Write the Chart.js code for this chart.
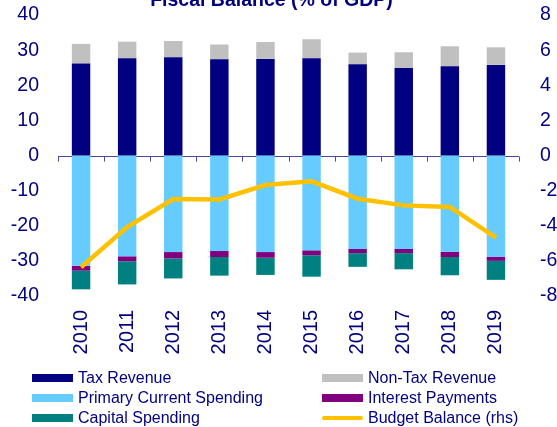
<!DOCTYPE html>
<html>
<head>
<meta charset="utf-8">
<script src="https://cdn.jsdelivr.net/npm/chart.js@4.4.0/dist/chart.umd.min.js"></script>
<style>
  html, body { margin: 0; padding: 0; background: #fff; }
  #wrap { position: relative; width: 557px; height: 427px; overflow: hidden; }
  canvas { position: absolute; left: 0; top: 0; }
  .leg { position: absolute; font-family: "Liberation Sans", Arial, sans-serif; font-size: 16px; color: #000080; line-height: 20px; white-space: nowrap; }
  .sw { position: absolute; width: 41px; height: 8px; }
</style>
</head>
<body>
<div id="wrap">
  <canvas id="c" width="557" height="427"></canvas>
</div>
<script>
const categories = ["2010","2011","2012","2013","2014","2015","2016","2017","2018","2019"];
const taxRevenue = [26.2, 27.7, 28.0, 27.4, 27.5, 27.7, 26.0, 24.9, 25.4, 25.8];
const nonTaxRevenue = [5.6, 4.7, 4.6, 4.2, 4.8, 5.4, 3.3, 4.5, 5.7, 5.0];
const primaryCurrentSpending = [-31.4, -28.7, -27.5, -27.2, -27.5, -27.0, -26.6, -26.6, -27.4, -28.8];
const interestPayments = [-1.4, -1.4, -1.8, -1.7, -1.6, -1.4, -1.2, -1.2, -1.5, -1.2];
const capitalSpending = [-5.3, -6.6, -5.7, -5.3, -4.9, -6.1, -3.9, -4.6, -5.2, -5.4];
const budgetBalance = [-6.36, -4.08, -2.48, -2.50, -1.68, -1.47, -2.46, -2.84, -2.93, -4.67];
const leftTicks = [40, 30, 20, 10, 0, -10, -20, -30, -40];
const rightTicks = [8, 6, 4, 2, 0, -2, -4, -6, -8];
const titleText = "Fiscal Balance (% of GDP)";
const legendItems = [
  {label: "Tax Revenue", color: "#000080", type: "box"},
  {label: "Non-Tax Revenue", color: "#C0C0C0", type: "box"},
  {label: "Primary Current Spending", color: "#66CCFF", type: "box"},
  {label: "Interest Payments", color: "#800080", type: "box"},
  {label: "Capital Spending", color: "#008080", type: "box"},
  {label: "Budget Balance (rhs)", color: "#FFC000", type: "line"}
];

const NAVY = "#000080";
const FONT = "'Liberation Sans', Arial, sans-serif";

const overlay = {
  id: "overlay",
  beforeDatasetsDraw(chart) {
    const ctx = chart.ctx;
    const x = chart.scales.x, y = chart.scales.y;
    const y0 = Math.round(y.getPixelForValue(0)) + 0.5;
    ctx.save();
    ctx.strokeStyle = "#4848a8";
    ctx.lineWidth = 1;
    ctx.beginPath();
    ctx.moveTo(x.left, y0);
    ctx.lineTo(x.right, y0);
    const n = categories.length;
    for (let i = 0; i <= n; i++) {
      const px = Math.round(x.left + (x.right - x.left) * i / n) + 0.5;
      ctx.moveTo(px, y0);
      ctx.lineTo(px, y0 + 5);
    }
    ctx.stroke();
    ctx.restore();
  },
  afterDraw(chart) {
    const ctx = chart.ctx;
    ctx.save();
    ctx.fillStyle = NAVY;
    ctx.font = "bold 19.5px " + FONT;
    ctx.textAlign = "center";
    ctx.textBaseline = "alphabetic";
    ctx.fillText(titleText, 271.5, 6);
    ctx.restore();
  }
};

function zeroPad(s) { s.paddingTop = 0; s.paddingBottom = 0; s.paddingLeft = 0; s.paddingRight = 0; }

const barCommon = { borderWidth: 0, barPercentage: 0.4, categoryPercentage: 1.0, order: 1, yAxisID: "y", stack: "s" };

new Chart(document.getElementById("c"), {
  data: {
    labels: categories,
    datasets: [
      Object.assign({type: "bar", label: "Tax Revenue", data: taxRevenue, backgroundColor: "#000080"}, barCommon),
      Object.assign({type: "bar", label: "Non-Tax Revenue", data: nonTaxRevenue, backgroundColor: "#C0C0C0"}, barCommon),
      Object.assign({type: "bar", label: "Primary Current Spending", data: primaryCurrentSpending, backgroundColor: "#66CCFF"}, barCommon),
      Object.assign({type: "bar", label: "Interest Payments", data: interestPayments, backgroundColor: "#800080"}, barCommon),
      Object.assign({type: "bar", label: "Capital Spending", data: capitalSpending, backgroundColor: "#008080"}, barCommon),
      {type: "line", label: "Budget Balance (rhs)", data: budgetBalance, borderColor: "#FFC000", backgroundColor: "#FFC000",
       borderWidth: 4.5, pointRadius: 0, tension: 0, yAxisID: "y1", order: 0}
    ]
  },
  options: {
    responsive: false,
    animation: false,
    layout: { padding: { top: 15, left: 0, right: 0, bottom: 0 } },
    plugins: { legend: { display: false }, tooltip: { enabled: false }, title: { display: false } },
    scales: {
      x: {
        stacked: true,
        grid: { display: false, drawTicks: false },
        border: { display: false },
        ticks: { minRotation: 90, maxRotation: 90, padding: 14, color: NAVY, font: { family: FONT, size: 20 } },
        afterFit(s) { s.height = 131; zeroPad(s); }
      },
      y: {
        position: "left", stacked: true, min: -40, max: 40,
        grid: { display: false, drawTicks: false },
        border: { display: false },
        afterBuildTicks(s) { s.ticks = leftTicks.map(v => ({value: v})); },
        ticks: { padding: 19, color: NAVY, font: { family: FONT, size: 19.5 } },
        afterFit(s) { s.width = 58; zeroPad(s); }
      },
      y1: {
        position: "right", min: -8, max: 8,
        grid: { display: false, drawTicks: false },
        border: { display: false },
        afterBuildTicks(s) { s.ticks = rightTicks.map(v => ({value: v})); },
        ticks: { padding: 21, color: NAVY, font: { family: FONT, size: 19.5 } },
        afterFit(s) { s.width = 38; zeroPad(s); }
      }
    }
  },
  plugins: [overlay]
});

// HTML legend
const wrap = document.getElementById("wrap");
const cols = [{sw: 32, tx: 78}, {sw: 322, tx: 368}];
const rows = [378, 398, 418];
legendItems.forEach((it, i) => {
  const c = cols[i % 2], r = rows[Math.floor(i / 2)];
  const sw = document.createElement("div");
  sw.className = "sw";
  sw.style.left = c.sw + "px";
  if (it.type === "box") {
    sw.style.top = (r - 4) + "px";
    sw.style.background = it.color;
  } else {
    sw.style.top = (r - 2) + "px";
    sw.style.height = "4px";
    sw.style.borderRadius = "2px";
    sw.style.background = it.color;
  }
  wrap.appendChild(sw);
  const t = document.createElement("div");
  t.className = "leg";
  t.style.left = c.tx + "px";
  t.style.top = (r - 10) + "px";
  t.textContent = it.label;
  wrap.appendChild(t);
});
</script>
</body>
</html>
